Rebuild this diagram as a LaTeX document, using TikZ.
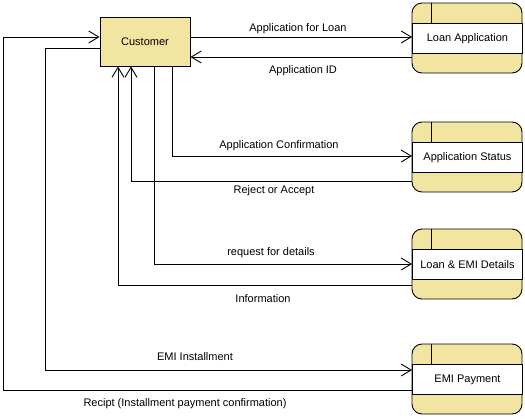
\documentclass[tikz,border=0pt]{standalone}
\usepackage{fontspec}
\setmainfont{Liberation Sans}
\usetikzlibrary{arrows.meta,calc}
\definecolor{dfy}{RGB}{242,229,161}
\tikzset{
  lw/.style={line width=0.9pt},
  flow/.style={draw, lw, -{Straight Barb[length=10pt,width=12pt,line width=0.9pt]}},
  lbl/.style={font=\fontsize{11}{13}\selectfont, inner sep=0pt},
  entity/.style={draw, lw, fill=dfy, minimum width=90pt, minimum height=49pt, inner sep=0pt, font=\fontsize{11}{13}\selectfont},
  storeband/.style={draw, lw, fill=white, minimum width=110pt, minimum height=30pt, inner sep=0pt, font=\fontsize{11}{13}\selectfont},
  storebody/.style={draw, lw, fill=dfy, rounded corners=10pt}
}
\newcommand{\mystore}[3]{%
  \draw[storebody] (412,#2) rectangle (522,#2+70);
  \node[storeband, anchor=north west] (#1) at (412,#2+20) {#3};
  \draw[lw] (431,#2) -- (431,#2+20);
}
\begin{document}
\begin{tikzpicture}[x=1pt,y=-1pt]
\useasboundingbox (0,0) rectangle (525,418);
\node[entity] (cust) at (145,41.5) {Customer};
\mystore{la}{3}{Loan Application}
\mystore{as}{122}{Application Status}
\mystore{ld}{229}{Loan \& EMI Details}
\mystore{ep}{344}{EMI Payment}
% helper rows / columns
\coordinate (h1) at (0,37);
\coordinate (h2) at (0,57);
\coordinate (hc) at (0,48);
\coordinate (h3) at (0,156);
\coordinate (h4) at (0,181);
\coordinate (h5) at (0,264);
\coordinate (h6) at (0,285);
\coordinate (h7) at (0,370);
\coordinate (h8) at (0,390);
\coordinate (v1) at (3,0);
\coordinate (v2) at (45,0);
\coordinate (v3) at (118,0);
\coordinate (v4) at (131,0);
\coordinate (v5) at (154,0);
\coordinate (v6) at (172,0);
% connectors
\draw[flow] (cust.east |- h1) -- (la.west |- h1);
\draw[flow] (la.west |- h2) -- (cust.east |- h2);
\draw[flow] (cust.south -| v6) |- (as.west |- h3);
\draw[flow] (as.west |- h4) -| (cust.south -| v4);
\draw[flow] (cust.south -| v5) |- (ld.west |- h5);
\draw[flow] (ld.west |- h6) -| (cust.south -| v3);
\draw[flow] (cust.west |- hc) -| (v2 |- h7) -- (ep.west |- h7);
\draw[flow] (ep.west |- h8) -| (v1 |- h1) -- (cust.west |- h1);
% labels
\node[lbl] (l1) at (298,29) {Application for Loan};
\node[lbl] (l2) at (303,71) {Application ID};
\node[lbl] (l3) at (279,146) {Application Confirmation};
\node[lbl] (l4) at (274,191) {Reject or Accept};
\node[lbl] (l5) at (271,253) {request for details};
\node[lbl] (l6) at (263,299) {Information};
\node[lbl] (l7) at (195,357) {EMI Installment};
\node[lbl] (l8) at (185,404) {Recipt (Installment payment confirmation)};
\end{tikzpicture}
\end{document}
